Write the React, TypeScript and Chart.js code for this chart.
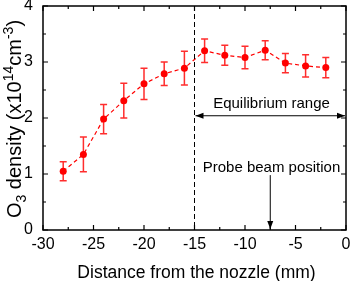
import React, { useEffect, useRef } from "react";
import { Chart, registerables } from "chart.js";

Chart.register(...registerables);

const distances = [-28, -26, -24, -22, -20, -18, -16, -14, -12, -10, -8, -6, -4, -2];
const densities = [1.05, 1.35, 1.98, 2.31, 2.61, 2.79, 2.89, 3.2, 3.12, 3.08, 3.21, 2.98, 2.93, 2.9];
const errors = [0.17, 0.31, 0.26, 0.31, 0.28, 0.21, 0.3, 0.21, 0.18, 0.2, 0.17, 0.17, 0.2, 0.18];
const xTitle = "Distance from the nozzle (mm)";
const equilibriumLabel = "Equilibrium range";
const equilibriumStart = -15;
const equilibriumEnd = 0;
const equilibriumY = 2.04;
const probeLabel = "Probe beam position";
const probeX = -7.5;
const probeTop = 0.98;

const RED = "#ff0000";
const FONT = "'Liberation Sans', Arial, sans-serif";

const overlayPlugin = {
  id: "overlay",
  beforeDatasetsDraw(chart: any) {
    const { ctx, scales } = chart;
    const xs = scales.x;
    const ys = scales.y;
    ctx.save();
    ctx.strokeStyle = "rgb(255,45,45)";
    ctx.lineWidth = 1.5;
    for (let i = 0; i < distances.length; i++) {
      const px = xs.getPixelForValue(distances[i]);
      const top = ys.getPixelForValue(densities[i] + errors[i]);
      const bot = ys.getPixelForValue(densities[i] - errors[i]);
      ctx.beginPath();
      ctx.moveTo(px, top);
      ctx.lineTo(px, bot);
      ctx.moveTo(px - 3.5, top);
      ctx.lineTo(px + 3.5, top);
      ctx.moveTo(px - 3.5, bot);
      ctx.lineTo(px + 3.5, bot);
      ctx.stroke();
    }
    ctx.restore();
  },
  afterDraw(chart: any) {
    const { ctx, scales, chartArea } = chart;
    const xs = scales.x;
    const ys = scales.y;
    const { left, right, top, bottom } = chartArea;
    ctx.save();
    // frame
    ctx.strokeStyle = "#000";
    ctx.lineWidth = 1.5;
    ctx.strokeRect(left, top, right - left, bottom - top);
    // ticks
    ctx.lineWidth = 1.2;
    ctx.beginPath();
    for (let v = -30; v <= 0; v += 2.5) {
      const px = xs.getPixelForValue(v);
      const len = Math.abs(v % 5) < 1e-6 ? 5 : 3;
      ctx.moveTo(px, bottom);
      ctx.lineTo(px, bottom - len);
      ctx.moveTo(px, top);
      ctx.lineTo(px, top + len);
    }
    for (let v = 0; v <= 4; v += 0.5) {
      const py = ys.getPixelForValue(v);
      const len = Math.abs(v % 1) < 1e-6 ? 5 : 3;
      ctx.moveTo(left, py);
      ctx.lineTo(left + len, py);
      ctx.moveTo(right, py);
      ctx.lineTo(right - len, py);
    }
    ctx.stroke();

    // dashed vertical line
    const dx = xs.getPixelForValue(equilibriumStart);
    ctx.beginPath();
    ctx.setLineDash([5, 3]);
    ctx.lineWidth = 1;
    ctx.moveTo(dx, top);
    ctx.lineTo(dx, bottom);
    ctx.stroke();
    ctx.setLineDash([]);

    // double arrow
    const ay = ys.getPixelForValue(equilibriumY);
    const ax1 = xs.getPixelForValue(equilibriumStart) + 1;
    const ax2 = xs.getPixelForValue(equilibriumEnd) - 1;
    ctx.lineWidth = 1;
    ctx.beginPath();
    ctx.moveTo(ax1, ay);
    ctx.lineTo(ax2, ay);
    ctx.stroke();
    ctx.fillStyle = "#000";
    ctx.beginPath();
    ctx.moveTo(ax1, ay);
    ctx.lineTo(ax1 + 8, ay - 3);
    ctx.lineTo(ax1 + 8, ay + 3);
    ctx.closePath();
    ctx.fill();
    ctx.beginPath();
    ctx.moveTo(ax2, ay);
    ctx.lineTo(ax2 - 8, ay - 3);
    ctx.lineTo(ax2 - 8, ay + 3);
    ctx.closePath();
    ctx.fill();

    // probe arrow
    const px = xs.getPixelForValue(probeX);
    const pt = ys.getPixelForValue(probeTop);
    ctx.beginPath();
    ctx.moveTo(px, pt);
    ctx.lineTo(px, bottom - 1);
    ctx.stroke();
    ctx.beginPath();
    ctx.moveTo(px, bottom - 1);
    ctx.lineTo(px - 3, bottom - 9);
    ctx.lineTo(px + 3, bottom - 9);
    ctx.closePath();
    ctx.fill();

    // annotation texts
    ctx.font = `15px ${FONT}`;
    ctx.textAlign = "center";
    ctx.textBaseline = "alphabetic";
    ctx.fillText(equilibriumLabel, 271.5, 107.5);
    ctx.fillText(probeLabel, 271.5, 171.5);

    // x title
    ctx.font = `17.5px ${FONT}`;
    ctx.fillText(xTitle, (left + right) / 2 + 2, 278);

    // y title with sub/superscripts
    const parts: [string, string][] = [
      ["O", "n"],
      ["3", "sub"],
      [" density (x10", "n"],
      ["14", "sup"],
      ["cm", "n"],
      ["-3", "sup"],
      [")", "n"],
    ];
    const big = `20px ${FONT}`;
    const small = `14px ${FONT}`;
    let total = 0;
    for (const [t, k] of parts) {
      ctx.font = k === "n" ? big : small;
      total += ctx.measureText(t).width;
    }
    ctx.translate(21, 119);
    ctx.rotate(-Math.PI / 2);
    ctx.textAlign = "left";
    let cx = -total / 2;
    for (const [t, k] of parts) {
      ctx.font = k === "n" ? big : small;
      const dy = k === "sub" ? 5 : k === "sup" ? -8 : 0;
      ctx.fillText(t, cx, dy);
      cx += ctx.measureText(t).width;
    }
    ctx.restore();
  },
};

export default function App() {
  const ref = useRef<HTMLCanvasElement>(null);
  useEffect(() => {
    if (!ref.current) return;
    const chart = new Chart(ref.current, {
      type: "line",
      data: {
        datasets: [
          {
            data: distances.map((d, i) => ({ x: d, y: densities[i] })),
            borderColor: RED,
            backgroundColor: RED,
            borderWidth: 1.2,
            borderDash: [4, 3],
            pointRadius: 3.5,
            pointBackgroundColor: RED,
            pointBorderColor: RED,
            pointBorderWidth: 0,
            tension: 0,
          },
        ],
      },
      options: {
        animation: false,
        responsive: false,
        maintainAspectRatio: false,
        layout: { padding: { left: 0, right: 4, top: 6, bottom: 0 } },
        plugins: { legend: { display: false }, tooltip: { enabled: false } },
        scales: {
          x: {
            type: "linear",
            min: -30,
            max: 0,
            grid: { display: false, drawTicks: false },
            border: { display: false },
            ticks: {
              stepSize: 5,
              padding: 5,
              color: "#000",
              font: { family: FONT, size: 16 },
              maxRotation: 0,
            },
            afterFit: (s: any) => {
              s.height = 51;
              s.paddingLeft = 0;
              s.paddingRight = 0;
              s.paddingTop = 0;
              s.paddingBottom = 0;
            },
          },
          y: {
            min: 0,
            max: 4,
            grid: { display: false, drawTicks: false },
            border: { display: false },
            ticks: {
              stepSize: 1,
              padding: 10,
              color: "#000",
              font: { family: FONT, size: 16 },
            },
            afterFit: (s: any) => {
              s.width = 43;
              s.paddingLeft = 0;
              s.paddingRight = 0;
              s.paddingTop = 0;
              s.paddingBottom = 0;
            },
          },
        },
      },
      plugins: [overlayPlugin],
    });
    return () => chart.destroy();
  }, []);
  return (
    <div style={{ position: "fixed", left: 0, top: 0, width: 350, height: 281, background: "#fff" }}>
      <canvas ref={ref} width={350} height={281} style={{ width: 350, height: 281, display: "block" }} />
    </div>
  );
}
